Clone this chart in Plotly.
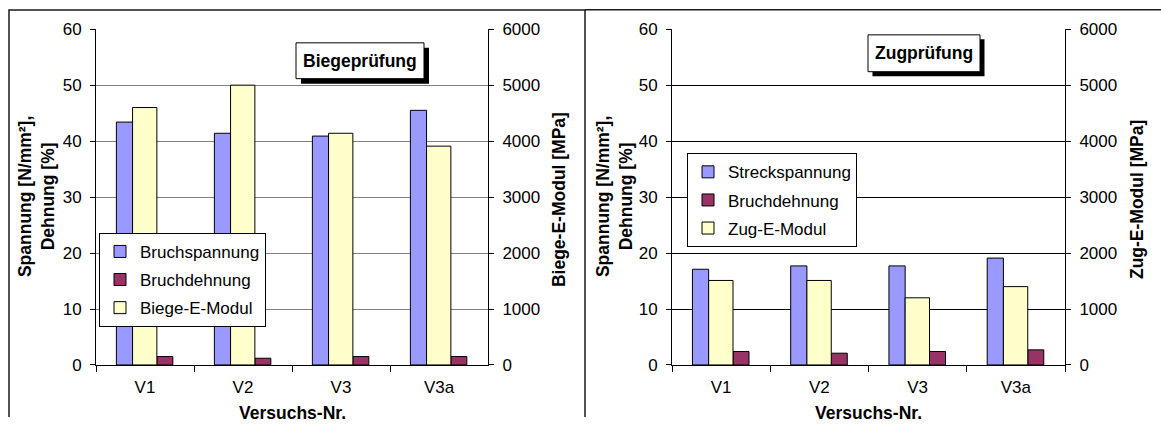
import plotly.graph_objects as go

W, H = 1161, 427

categories = ["V1", "V2", "V3", "V3a"]
# Biegeprüfung
bruchspannung = [43.4, 41.4, 40.9, 45.5]
bruchdehnung_biege = [1.5, 1.2, 1.5, 1.5]
biege_e_modul = [4600, 5000, 4140, 3910]
# Zugprüfung
streckspannung = [17.1, 17.7, 17.7, 19.1]
bruchdehnung_zug = [2.4, 2.1, 2.4, 2.7]
zug_e_modul = [1510, 1510, 1200, 1400]

left_ticks = [0, 10, 20, 30, 40, 50, 60]
right_ticks = [0, 1000, 2000, 3000, 4000, 5000, 6000]

BLUE = "#9999FF"
MAROON = "#993366"
YELLOW = "#FFFFCC"
FONT = "Liberation Sans, Arial, sans-serif"

# The captured page maps the figure's height onto rows 8..418 of the picture,
# so vertical positions are converted from picture rows to paper fractions.
Y_TOP, Y_SCALE = 8.0, 410.0 / 427.0


def px(x):
    return x / W


def py(y):
    return 1 - ((y - Y_TOP) / Y_SCALE) / H


fig = go.Figure()

bar_line = dict(color="black", width=1)
OFF_B, W_B = -0.292, 0.165
OFF_Y, W_Y = -0.127, 0.248
OFF_M, W_M = 0.121, 0.163

fig.add_trace(go.Bar(x=categories, y=bruchspannung, name="Bruchspannung",
                     marker=dict(color=BLUE, line=bar_line), offset=OFF_B, width=W_B,
                     xaxis="x", yaxis="y", legend="legend", legendgroup="a1"))
fig.add_trace(go.Bar(x=categories, y=bruchdehnung_biege, name="Bruchdehnung",
                     marker=dict(color=MAROON, line=bar_line), offset=OFF_M, width=W_M,
                     xaxis="x", yaxis="y", legend="legend", legendgroup="a2"))
fig.add_trace(go.Bar(x=categories, y=biege_e_modul, name="Biege-E-Modul",
                     marker=dict(color=YELLOW, line=bar_line), offset=OFF_Y, width=W_Y,
                     xaxis="x", yaxis="y2", legend="legend", legendgroup="a3"))
fig.add_trace(go.Bar(x=categories, y=streckspannung, name="Streckspannung",
                     marker=dict(color=BLUE, line=bar_line), offset=OFF_B, width=W_B,
                     xaxis="x2", yaxis="y3", legend="legend2", legendgroup="b1"))
fig.add_trace(go.Bar(x=categories, y=bruchdehnung_zug, name="Bruchdehnung",
                     marker=dict(color=MAROON, line=bar_line), offset=OFF_M, width=W_M,
                     xaxis="x2", yaxis="y3", legend="legend2", legendgroup="b2"))
fig.add_trace(go.Bar(x=categories, y=zug_e_modul, name="Zug-E-Modul",
                     marker=dict(color=YELLOW, line=bar_line), offset=OFF_Y, width=W_Y,
                     xaxis="x2", yaxis="y4", legend="legend2", legendgroup="b3"))

tickfont = dict(family=FONT, size=17, color="black")
ydom = [py(365.7), py(28.3)]

xaxis_common = dict(type="category", showline=True, linecolor="black", linewidth=1,
                    ticks="outside", tickson="boundaries", ticklen=6, tickcolor="black",
                    tickfont=tickfont, showgrid=False, zeroline=False,
                    ticklabelstandoff=7, fixedrange=True)
yleft_common = dict(range=[0, 60], tickvals=left_ticks, showline=True, linecolor="black",
                    linewidth=1, ticks="outside", ticklen=5, tickcolor="black",
                    tickfont=tickfont, zeroline=False, ticklabelstandoff=5, domain=ydom)
yright_common = dict(range=[0, 6000], tickvals=right_ticks, showline=True, linecolor="black",
                     linewidth=1, ticks="outside", ticklen=5, tickcolor="black",
                     tickfont=tickfont, zeroline=False, showgrid=False, side="right",
                     ticklabelstandoff=5)

legend_common = dict(bgcolor="white", bordercolor="black", borderwidth=1,
                     font=dict(family=FONT, size=17, color="black"),
                     xanchor="left", yanchor="top", traceorder="grouped",
                     tracegroupgap=3, itemwidth=30)

fig.update_layout(
    width=W, height=H,
    margin=dict(l=0, r=0, t=0, b=0),
    paper_bgcolor="white", plot_bgcolor="white",
    barmode="overlay",
    font=dict(family=FONT, color="black"),
    showlegend=True,
    xaxis=dict(domain=[px(96), px(488)], anchor="y", **xaxis_common),
    yaxis=dict(anchor="x", showgrid=True, gridcolor="#808080", gridwidth=1, **yleft_common),
    yaxis2=dict(anchor="x", overlaying="y", **yright_common),
    xaxis2=dict(domain=[px(672), px(1065)], anchor="y3", **xaxis_common),
    yaxis3=dict(anchor="x2", showgrid=True, gridcolor="black", gridwidth=1, **yleft_common),
    yaxis4=dict(anchor="x2", overlaying="y3", **yright_common),
    legend=dict(x=px(99), y=py(233), **legend_common),
    legend2=dict(x=px(687), y=py(153), **legend_common),
)

shapes = []
line_col = "#1a1a1a"
shapes.append(dict(type="path", xref="paper", yref="paper",
                   path=f"M {px(9)} 0 L {px(9)} {py(9)} L {px(585)} {py(9)} L {px(585)} 0",
                   line=dict(color=line_col, width=1.5)))
shapes.append(dict(type="line", xref="paper", yref="paper",
                   x0=px(585), y0=py(8.8), x1=1, y1=py(8.8),
                   line=dict(color=line_col, width=1.5)))


def title_box(x0, y0, x1, y1, text, off=5):
    shapes.append(dict(type="rect", xref="paper", yref="paper",
                       x0=px(x0 + off), y0=py(y1 + off), x1=px(x1 + off), y1=py(y0 + off),
                       fillcolor="black", line=dict(color="black", width=0), layer="above"))
    shapes.append(dict(type="rect", xref="paper", yref="paper",
                       x0=px(x0), y0=py(y1), x1=px(x1), y1=py(y0),
                       fillcolor="white", line=dict(color="black", width=1), layer="above"))
    return dict(text=f"<b>{text}</b>", xref="paper", yref="paper",
                x=px((x0 + x1) / 2), y=py((y0 + y1) / 2), xanchor="center", yanchor="middle",
                showarrow=False, font=dict(family=FONT, size=17.5, color="black"))


annotations = []
annotations.append(title_box(296, 42, 424, 78, "Biegeprüfung"))
annotations.append(title_box(868, 34, 980, 71, "Zugprüfung", off=4.5))

title_font = dict(family=FONT, size=17.5, color="black")


def vtitle(x, y, text):
    annotations.append(dict(text=f"<b>{text}</b>", xref="paper", yref="paper",
                            x=px(x), y=py(y), xanchor="center", yanchor="middle",
                            textangle=-90, showarrow=False, font=title_font))


vtitle(36, 197, "Spannung [N/mm²],<br>Dehnung [%]")
vtitle(559, 200, "Biege-E-Modul [MPa]")
vtitle(614, 197, "Spannung [N/mm²],<br>Dehnung [%]")
vtitle(1137, 200, "Zug-E-Modul [MPa]")

for cx in [292, 868]:
    annotations.append(dict(text="<b>Versuchs-Nr.</b>", xref="paper", yref="paper",
                            x=px(cx), y=py(414), xanchor="center", yanchor="middle",
                            showarrow=False, font=title_font))

fig.update_layout(shapes=shapes, annotations=annotations)

fig.write_html("out.html")
